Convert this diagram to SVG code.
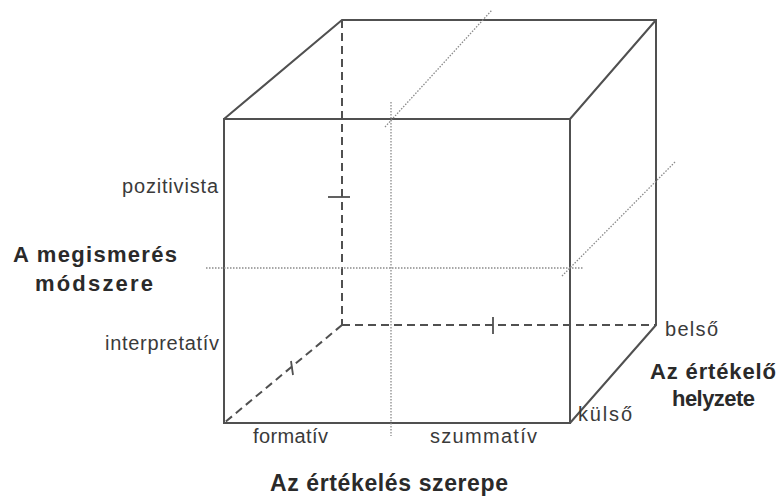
<svg xmlns="http://www.w3.org/2000/svg" width="778" height="498" viewBox="0 0 778 498">
<style>
.solid{fill:none;stroke:#505050;stroke-width:2;stroke-linejoin:miter}
.dash{fill:none;stroke:#505050;stroke-width:2;stroke-dasharray:8 5}
.dot{fill:none;stroke:#8a8a8a;stroke-width:1.3;stroke-dasharray:1.5 1.5}
.tick{fill:none;stroke:#505050;stroke-width:1.8}
.lbl{font-family:"Liberation Sans",Arial,sans-serif;font-size:20px;fill:#3a3a3a}
.ttl{font-family:"Liberation Sans",Arial,sans-serif;font-size:22px;font-weight:bold;fill:#2a2a2a}
</style>
<rect width="778" height="498" fill="#ffffff"/>
<g id="cube">
<line class="dash" x1="342" y1="20" x2="342" y2="325"/>
<line class="dash" x1="342" y1="325" x2="656" y2="325"/>
<line class="dash" x1="342" y1="325" x2="224" y2="423"/>
<path class="solid" d="M224,119 L342,20 L656,20 L656,325 L570,423 M656,20 L570,119"/>
<rect class="solid" x="224" y="119" width="346" height="304"/>
</g>
<g id="axes">
<line class="dot" x1="391" y1="102" x2="391" y2="436"/>
<line class="dot" x1="206" y1="268" x2="584" y2="268"/>
<line class="dot" x1="385" y1="127" x2="492" y2="10"/>
<line class="dot" x1="562" y1="276" x2="676" y2="161"/>
<line class="tick" x1="328" y1="197" x2="350" y2="197"/>
<line class="tick" x1="493" y1="317" x2="493" y2="334"/>
<line class="tick" x1="291" y1="361" x2="293" y2="375"/>
</g>
<g id="labels">
<text class="lbl" x="122" y="193" textLength="96" lengthAdjust="spacing">pozitivista</text>
<text class="lbl" x="105" y="350" textLength="114" lengthAdjust="spacing">interpretatív</text>
<text class="lbl" x="253" y="443" textLength="75" lengthAdjust="spacing">formatív</text>
<text class="lbl" x="430" y="443" textLength="107" lengthAdjust="spacing">szummatív</text>
<text class="lbl" x="665" y="336" textLength="53" lengthAdjust="spacing">belső</text>
<text class="lbl" x="578" y="421" textLength="54" lengthAdjust="spacing">külső</text>
</g>
<g id="titles">
<text class="ttl" x="13" y="262" textLength="164" lengthAdjust="spacing">A megismerés</text>
<text class="ttl" x="35" y="291" textLength="118" lengthAdjust="spacing">módszere</text>
<text class="ttl" x="650" y="379" textLength="126" lengthAdjust="spacing">Az értékelő</text>
<text class="ttl" x="672" y="406" textLength="83" lengthAdjust="spacing">helyzete</text>
<text class="ttl" x="270" y="491" textLength="238" lengthAdjust="spacing" style="font-size:23px">Az értékelés szerepe</text>
</g>
</svg>
